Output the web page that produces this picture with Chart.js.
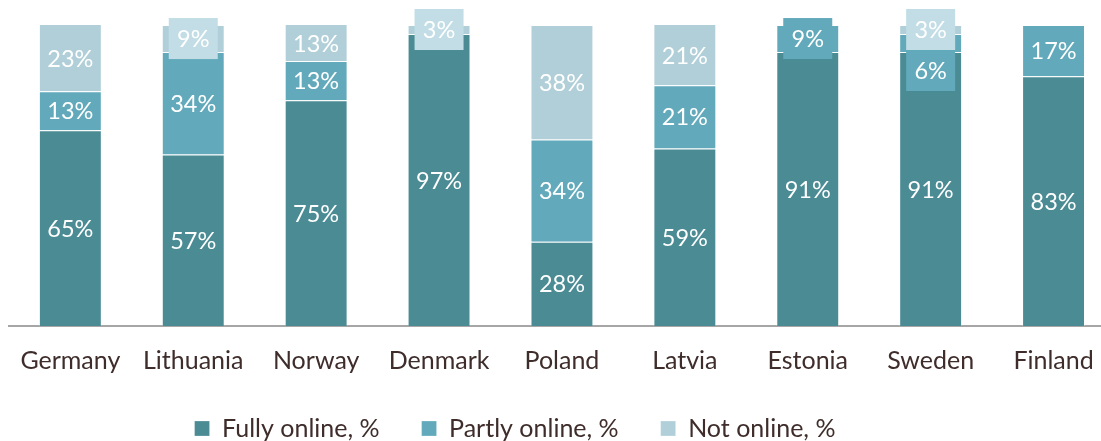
<!DOCTYPE html>
<html>
<head>
<meta charset="utf-8">
<script src="https://cdn.jsdelivr.net/npm/chart.js@4.4.1/dist/chart.umd.min.js"></script>
<style>
  html, body { margin: 0; padding: 0; overflow: hidden; background: #fff; }
</style>
</head>
<body>
<canvas id="chart" width="1115" height="473"></canvas>
<script>
// Categories and series values (percent)
const countries = ["Germany", "Lithuania", "Norway", "Denmark", "Poland", "Latvia", "Estonia", "Sweden", "Finland"];
const fullyOnline = [65, 57, 75, 97, 28, 59, 91, 91, 83];
const partlyOnline = [13, 34, 13, null, 34, 21, 9, 6, 17];
const notOnline = [23, 9, 13, 3, 38, 21, null, 3, null];

const seriesNames = ["Fully online, %", "Partly online, %", "Not online, %"];
const barColors = ["#4a8b94", "#62aabb", "#b1cfd8"];
// small labels sit in a box of their own
const boxColors = ["#4a8b94", "#62aabb", "#c2dde5"];
const textColor = "#3e2d2b";

// White value labels centred in each segment
const barLabels = {
  id: "barLabels",
  afterDatasetsDraw(chart) {
    const ctx = chart.ctx;
    ctx.save();
    ctx.font = "23.5px Lato";
    ctx.textAlign = "center";
    ctx.textBaseline = "middle";
    countries.forEach((_, i) => {
      let lastBottom = -Infinity;
      for (let d = chart.data.datasets.length - 1; d >= 0; d--) {
        const v = chart.data.datasets[d].data[i];
        if (!v) continue;
        const bar = chart.getDatasetMeta(d).data[i];
        const top = Math.max(bar.y, chart.chartArea.top);
        let y = (top + bar.base) / 2;
        if (v < 10) {
          let boxTop = y - 20.5;
          if (boxTop < lastBottom) {
            boxTop = lastBottom;
            y = boxTop + 20.5;
          }
          ctx.fillStyle = boxColors[d];
          ctx.fillRect(bar.x - 24.5, boxTop, 49, 41);
          lastBottom = boxTop + 41;
        }
        ctx.fillStyle = "#ffffff";
        ctx.fillText(v + "%", bar.x, y + 1);
      }
    });
    ctx.restore();
  }
};

// legend is not centred under the plot in the original
const legendShift = {
  id: "legendShift",
  afterLayout(chart) {
    const lg = chart.legend;
    lg.left -= 46;
    lg.right -= 46;
    lg.top -= 22;
    lg.bottom -= 22;
  }
};

const makeSet = (i, values) => ({
  label: seriesNames[i],
  data: values,
  backgroundColor: barColors[i],
  borderColor: "rgba(255,255,255,0.25)",
  borderWidth: 1,
  barPercentage: 1,
  categoryPercentage: 0.512,
  clip: 0,
});

new Chart(document.getElementById("chart"), {
  type: "bar",
  plugins: [barLabels, legendShift],
  data: {
    labels: countries,
    datasets: [makeSet(0, fullyOnline), makeSet(1, partlyOnline), makeSet(2, notOnline)],
  },
  options: {
    responsive: false,
    animation: false,
    layout: { padding: { top: 25, left: 7, right: 0, bottom: 0 } },
    plugins: {
      tooltip: { enabled: false },
      legend: {
        position: "bottom",
        labels: {
          boxWidth: 15,
          boxHeight: 15,
          padding: 42,
          color: textColor,
          font: { family: "Lato", size: 25 },
        },
      },
    },
    scales: {
      x: {
        stacked: true,
        grid: { display: false, drawTicks: false },
        border: { display: true, color: "#a6a6a6", width: 2 },
        ticks: { color: textColor, padding: 20, font: { family: "Lato", size: 25 } },
      },
      y: {
        stacked: true,
        display: false,
        min: 0,
        max: 100,
      },
    },
  },
});
</script>
</body>
</html>
